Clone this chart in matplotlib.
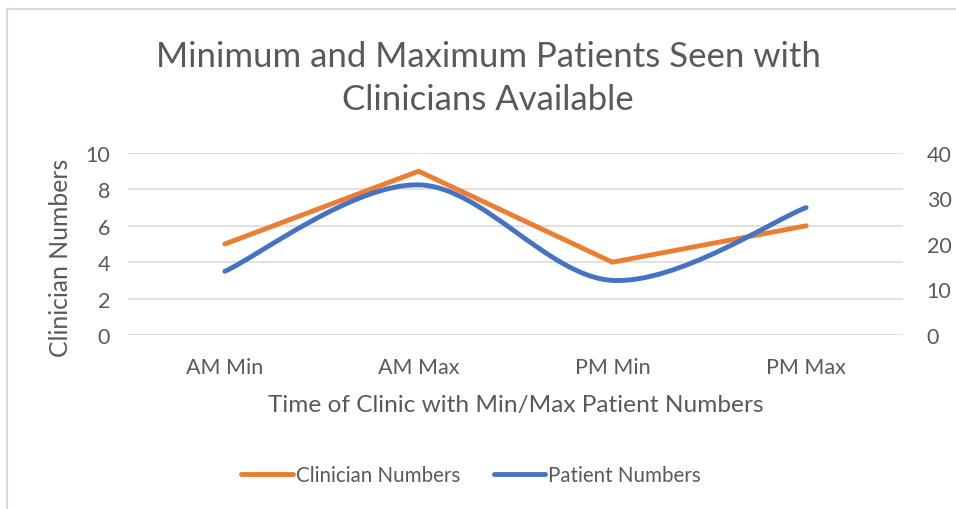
import matplotlib
matplotlib.use("Agg")
import matplotlib.pyplot as plt
from matplotlib.path import Path
from matplotlib.patches import PathPatch
from matplotlib.lines import Line2D

categories = ["AM Min", "AM Max", "PM Min", "PM Max"]
clinician_numbers = [5, 9, 4, 6]
patient_numbers = [14, 33, 12, 28]
left_ticks = [0, 2, 4, 6, 8, 10]
right_ticks = [0, 10, 20, 30, 40]

ORANGE = "#ED7D31"
BLUE = "#4472C4"
TXT = "#595959"
GRID = "#D9D9D9"
FONT = "Lato"

plt.rcParams["font.family"] = [FONT, "DejaVu Sans"]

W, H = 956, 510
fig = plt.figure(figsize=(W / 100, H / 100), dpi=100)
fig.patch.set_facecolor("white")

# chart border (top & left visible)
fig.add_artist(Line2D([7 / W, 7 / W], [0, 1 - 10 / H], color=GRID, lw=1.5, transform=fig.transFigure))
fig.add_artist(Line2D([7 / W, 1], [1 - 10 / H, 1 - 10 / H], color=GRID, lw=1.5, transform=fig.transFigure))

L, R, T, B = 128, 903, 154, 336
ax = fig.add_axes([L / W, 1 - B / H, (R - L) / W, (B - T) / H])
ax2 = ax.twinx()

x = list(range(len(categories)))
ax.set_xlim(-0.5, len(categories) - 0.5)
ax.set_ylim(0, 10)
ax2.set_ylim(0, 40)

for a in (ax, ax2):
    for s in a.spines.values():
        s.set_visible(False)

ax.set_yticks(left_ticks)
ax.yaxis.grid(True, color=GRID, lw=1.1)
ax.set_axisbelow(True)
ax.tick_params(axis="y", length=0, pad=13, labelsize=15.5, labelcolor=TXT)
ax.set_xticks(x)
ax.set_xticklabels(categories)
ax.tick_params(axis="x", length=0, pad=16, labelsize=15.5, labelcolor=TXT)
ax2.set_yticks(right_ticks)
ax2.tick_params(axis="y", length=0, pad=17, labelsize=15.5, labelcolor=TXT)

ax.plot(x, clinician_numbers, color=ORANGE, lw=3.5, solid_capstyle="round", solid_joinstyle="miter", zorder=3)

# Excel-style smoothed line (cubic Bezier through data points)
pts = list(zip(x, patient_numbers))
n = len(pts)
verts = [pts[0]]
codes = [Path.MOVETO]
for i in range(n - 1):
    p0 = pts[max(i - 1, 0)]
    p1 = pts[i]
    p2 = pts[i + 1]
    p3 = pts[min(i + 2, n - 1)]
    c1 = (p1[0] + (p2[0] - p0[0]) / 6, p1[1] + (p2[1] - p0[1]) / 6)
    c2 = (p2[0] - (p3[0] - p1[0]) / 6, p2[1] - (p3[1] - p1[1]) / 6)
    verts += [c1, c2, p2]
    codes += [Path.CURVE4] * 3
ax2.add_patch(PathPatch(Path(verts, codes), facecolor="none", edgecolor=BLUE, lw=3.5, capstyle="round", zorder=3))

fig.text(488 / W, 1 - 57 / H, "Minimum and Maximum Patients Seen with", ha="center", va="center", fontsize=25, color=TXT)
fig.text(488 / W, 1 - 100 / H, "Clinicians Available", ha="center", va="center", fontsize=25, color=TXT)
fig.text(516 / W, 1 - 406 / H, "Time of Clinic with Min/Max Patient Numbers", ha="center", va="center", fontsize=17.6, color=TXT)
fig.text(60 / W, 1 - 258 / H, "Clinician Numbers", ha="center", va="center", rotation=90, fontsize=17.8, color=TXT)

handles = [Line2D([], [], color=ORANGE, lw=3.5, solid_capstyle="round"),
           Line2D([], [], color=BLUE, lw=3.5, solid_capstyle="round")]
fig.legend(handles, ["Clinician Numbers", "Patient Numbers"], loc="center", bbox_to_anchor=(471 / W, 1 - 476 / H),
           ncol=2, frameon=False, fontsize=14.8, labelcolor=TXT, handlelength=2.5, handletextpad=0.15, columnspacing=1.65)

fig.savefig("out.png", dpi=100, facecolor="white")
